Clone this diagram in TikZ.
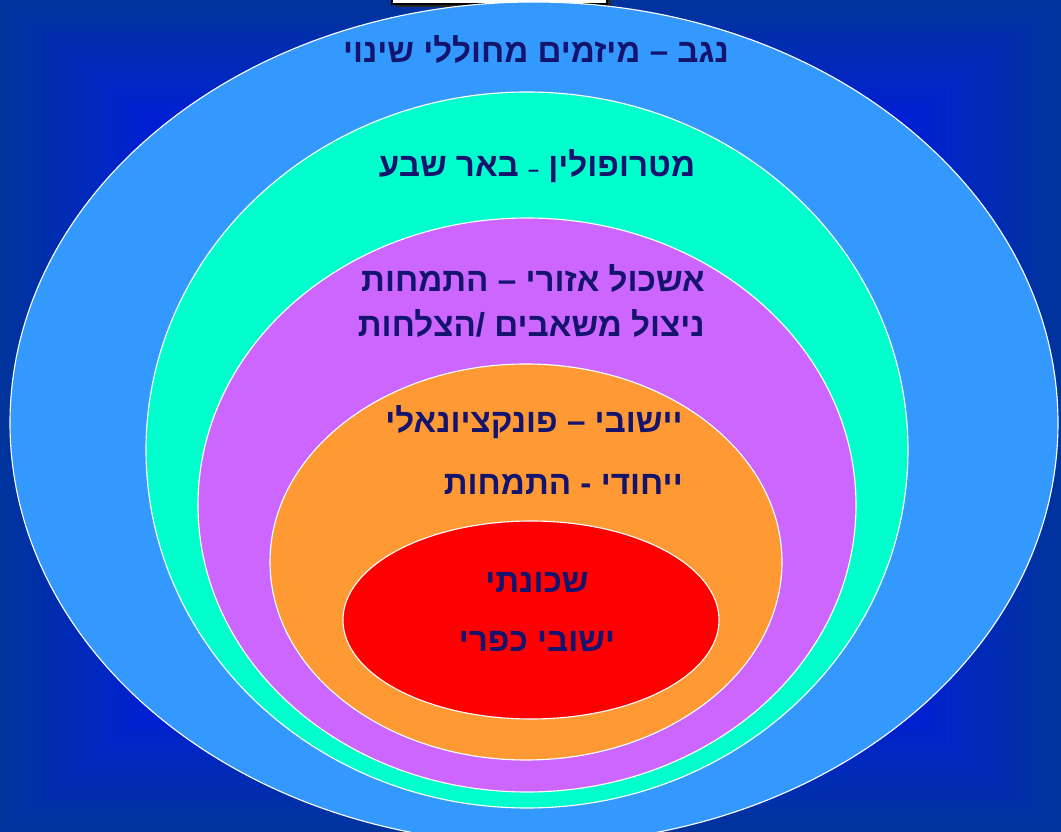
\documentclass[tikz,border=0pt]{standalone}
\usepackage{fontspec}
\usepackage{xcolor}
\usepackage{tikz}
\usetikzlibrary{positioning}
\TeXXeTstate=1
\newfontfamily\hebfont[Script=Hebrew]{Liberation Sans}
\definecolor{bgdark}{HTML}{00349C}
\definecolor{bglight}{HTML}{001ED8}
\definecolor{negevblue}{HTML}{3399FF}
\definecolor{metrocyan}{HTML}{00FFCC}
\definecolor{clusterpurple}{HTML}{CC66FF}
\definecolor{townorange}{HTML}{FF9933}
\definecolor{hoodred}{HTML}{FF0000}
\definecolor{labelnavy}{HTML}{14146E}

\begin{document}
\begin{tikzpicture}[
    x=0.025cm, y=-0.025cm,
    ring/.style={draw=white, line width=0.8pt},
    lbl/.style={text=labelnavy, inner sep=0pt, font=\hebfont\bfseries\fontsize{23.6}{28}\selectfont}
]
\useasboundingbox (0,0) rectangle (1061,832);
\foreach \k in {0,...,20} {
    \pgfmathsetmacro\s{1-0.015*\k}
    \pgfmathtruncatemacro\p{5*\k}
    \fill [bglight!\p!bgdark] ({530.5-530.5*\s},{416-416*\s}) rectangle ({530.5+530.5*\s},{416+416*\s});
}
\begin{scope}
    \clip (0,0) rectangle (1061,832);
    \fill [black!85] (396,-4) rectangle (611,7);
    \path [fill=white, draw=black, line width=1pt] (392,-6) rectangle (607,4);
    \path [ring, fill=negevblue] (534,423) ellipse [x radius=524, y radius=421];
    \path [ring, fill=metrocyan] (527,450) ellipse [x radius=381, y radius=358];
    \path [ring, fill=clusterpurple] (527,505) ellipse [x radius=329, y radius=287];
    \path [ring, fill=townorange] (526,562) ellipse [x radius=256, y radius=198];
    \path [ring, fill=hoodred] (531,620) ellipse [x radius=188, y radius=99];
\end{scope}
\node [lbl, anchor=base] (negev) at (536,63) {\beginR נגב – מיזמים מחוללי שינוי\endR};
\node [lbl, anchor=base] (metro) at (537,177) {\beginR מטרופולין {\fontsize{14}{16}\selectfont –} באר שבע\endR};
\node [lbl, anchor=base east] (clusterA) at (705,292) {\beginR אשכול אזורי – התמחות\endR};
\node [lbl, anchor=base east] (clusterB) at (705,337) {\beginR ניצול משאבים /הצלחות\endR};
\node [lbl, anchor=base east] (townA) at (683,433) {\beginR יישובי – פונקציונאלי\endR};
\node [lbl, anchor=base east] (townB) at (683,495) {\beginR ייחודי - התמחות\endR};
\node [lbl, anchor=base] (hoodA) at (537,593) {\beginR שכונתי\endR};
\node [lbl, anchor=base] (hoodB) at (537,652) {\beginR ישובי כפרי\endR};
\end{tikzpicture}
\end{document}
